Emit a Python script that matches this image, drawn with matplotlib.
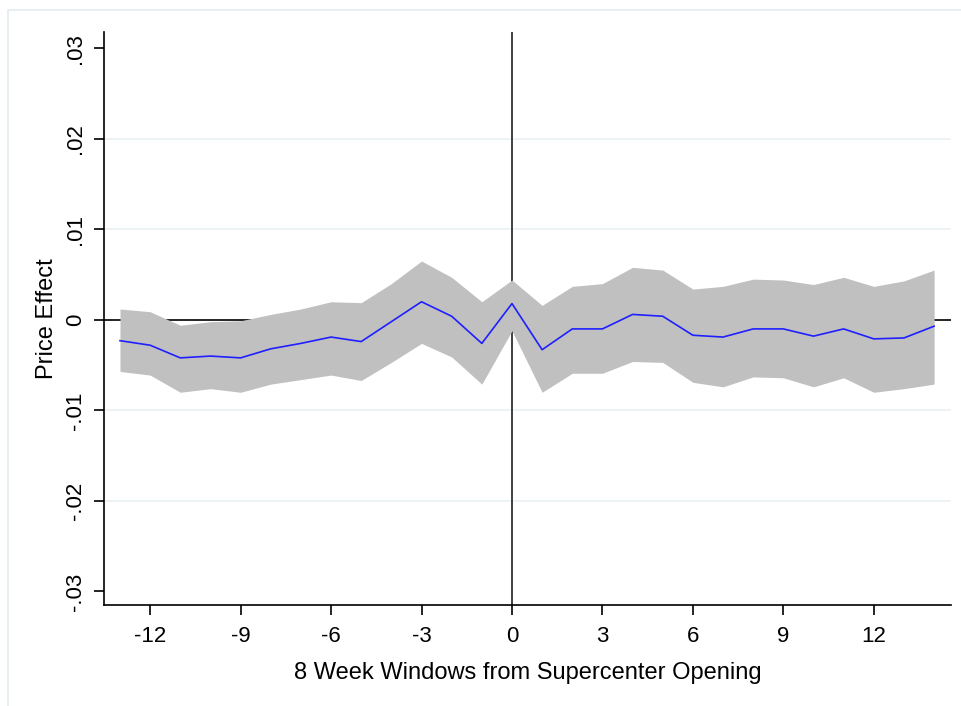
import matplotlib.pyplot as plt
from matplotlib.patches import Rectangle

# 8-week windows relative to supercenter opening
windows = list(range(-13, 15))

# point estimates and confidence band
effect = [-0.0023, -0.0028, -0.0042, -0.0040, -0.0042, -0.0032, -0.0026,
          -0.0019, -0.0024, -0.0002, 0.0020, 0.0004, -0.0026, 0.0018,
          -0.0033, -0.0010, -0.0010, 0.0006, 0.0004, -0.0017, -0.0019,
          -0.0010, -0.0010, -0.0018, -0.0010, -0.0021, -0.0020, -0.0007]
upper = [0.0012, 0.0009, -0.0006, -0.0002, -0.0001, 0.0006, 0.0012,
         0.0020, 0.0019, 0.0040, 0.0065, 0.0047, 0.0020, 0.0044,
         0.0016, 0.0037, 0.0040, 0.0058, 0.0055, 0.0034, 0.0037,
         0.0045, 0.0044, 0.0039, 0.0047, 0.0037, 0.0043, 0.0055]
lower = [-0.0057, -0.0061, -0.0080, -0.0076, -0.0080, -0.0071, -0.0066,
         -0.0061, -0.0067, -0.0047, -0.0026, -0.0041, -0.0071, -0.0012,
         -0.0080, -0.0059, -0.0059, -0.0046, -0.0047, -0.0069, -0.0074,
         -0.0063, -0.0064, -0.0074, -0.0064, -0.0080, -0.0076, -0.0071]

xticks = [-12, -9, -6, -3, 0, 3, 6, 9, 12]
yticks = [-0.03, -0.02, -0.01, 0, 0.01, 0.02, 0.03]
ylabels = ["-.03", "-.02", "-.01", "0", ".01", ".02", ".03"]

plt.rcParams['font.family'] = ['Liberation Sans', 'DejaVu Sans']

fig = plt.figure(figsize=(9.62, 7.06), dpi=100)
fig.patches.append(Rectangle((8 / 962, -0.1), 1.2, (706 - 10) / 706 + 0.1,
                             transform=fig.transFigure, fill=False,
                             edgecolor='#e3ecf0', linewidth=1.2))
ax = fig.add_axes([104 / 962, 101 / 706, 847 / 962, 573 / 706])

# grid and reference lines under the band
for y in [-0.02, -0.01, 0.01, 0.02]:
    ax.axhline(y, color='#eaf1f4', linewidth=1.2, zorder=0)
ax.axhline(0, color='black', linewidth=1.2, zorder=1)
ax.axvline(0, color='#404040', linewidth=1.4, zorder=1)

ax.fill_between(windows, lower, upper, color='#c0c0c0', linewidth=0, zorder=2)
ax.plot(windows, effect, color='#1f1fff', linewidth=1.2, zorder=3)

ax.set_xlim(-13.53, 14.56)
ax.set_ylim(-0.0315, 0.0318)
ax.set_xticks(xticks)
ax.set_xticklabels([str(t) for t in xticks])
ax.set_yticks(yticks)
ax.set_yticklabels(ylabels, rotation=90, va='center')

for side in ['top', 'right']:
    ax.spines[side].set_visible(False)
ax.spines['left'].set_linewidth(1.2)
ax.spines['bottom'].set_linewidth(1.2)
ax.tick_params(axis='both', length=7, width=1.2, labelsize=16)
ax.tick_params(axis='x', pad=8)
ax.tick_params(axis='y', pad=6)

ax.set_xlabel("8 Week Windows from Supercenter Opening", fontsize=17, labelpad=11)
ax.set_ylabel("Price Effect", fontsize=17, labelpad=5)

fig.savefig("out.png", dpi=100)
